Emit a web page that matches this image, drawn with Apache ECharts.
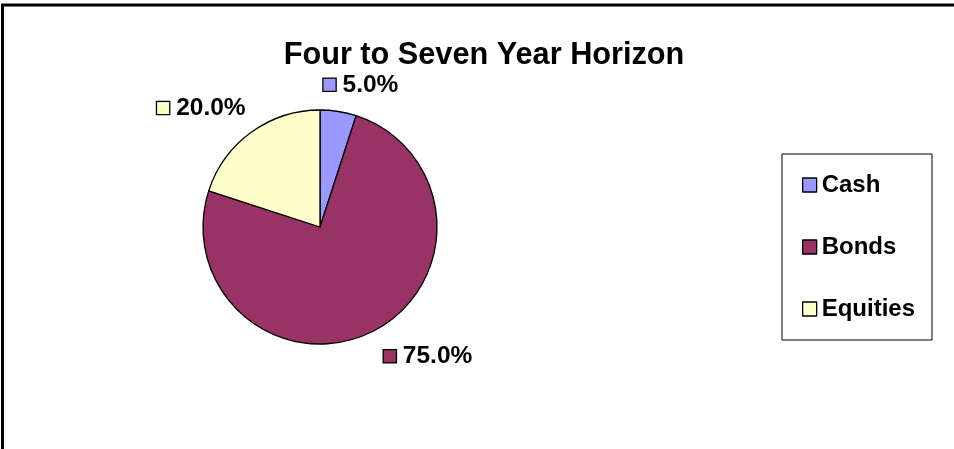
<!DOCTYPE html>
<html>
<head>
<meta charset="utf-8">
<script src="https://cdn.jsdelivr.net/npm/echarts@6/dist/echarts.min.js"></script>
<style>
  html, body { margin: 0; padding: 0; background: #fff; }
  #chart { width: 954px; height: 449px; }
</style>
</head>
<body>
<div id="chart"></div>
<script>
// Asset allocation for a four-to-seven-year horizon (percent of portfolio)
const categories = ['Cash', 'Bonds', 'Equities'];
const shares = [5, 75, 20];
const colors = ['#9999FF', '#993366', '#FFFFCC'];

const FONT = "'Liberation Sans', Arial, sans-serif";

// Per-slice placement of the outside labels (radial / tangential offsets)
const labelLines = [
  { length: 27, length2: -24 },
  { length: 28, length2: -7 },
  { length: 30, length2: -17 }
];

const rich = { v: { fontFamily: FONT, fontSize: 24.5, fontWeight: 'bold', color: '#000', padding: [0, 0, 0, 7] } };
colors.forEach((c, i) => {
  rich['k' + i] = { width: 12, height: 12, backgroundColor: c, borderColor: '#000', borderWidth: 1.3 };
});

const chart = echarts.init(document.getElementById('chart'), null, { renderer: 'canvas' });
chart.setOption({
  animation: false,
  backgroundColor: '#fff',
  title: {
    text: 'Four to Seven Year Horizon',
    left: 479,
    top: 35,
    textAlign: 'center',
    textStyle: { fontFamily: FONT, fontSize: 30.7, fontWeight: 'bold', color: '#000' }
  },
  legend: {
    orient: 'vertical',
    left: 782,
    top: 154,
    data: categories,
    icon: 'rect',
    itemWidth: 14,
    itemHeight: 14,
    itemGap: 38,
    padding: [19, 17, 19, 20],
    borderColor: '#000',
    borderWidth: 1,
    itemStyle: { borderColor: '#000', borderWidth: 1.3 },
    textStyle: { fontFamily: FONT, fontSize: 24, fontWeight: 'bold', color: '#000', lineHeight: 24 }
  },
  graphic: [{
    type: 'polyline',
    shape: { points: [[2.5, 449], [2.5, 5], [954, 5]] },
    style: { stroke: '#000', lineWidth: 3, fill: null }
  }],
  series: [{
    type: 'pie',
    center: [320, 227],
    radius: 117,
    startAngle: 90,
    clockwise: true,
    avoidLabelOverlap: false,
    itemStyle: { borderColor: '#000', borderWidth: 1.3 },
    emphasis: { disabled: true },
    label: {
      show: true,
      position: 'outside',
      distanceToLabelLine: 5,
      formatter: p => `{k${p.dataIndex}|}{v|${p.value.toFixed(1)}%}`,
      rich: rich
    },
    labelLine: { show: false },
    data: categories.map((name, i) => ({
      name: name,
      value: shares[i],
      itemStyle: { color: colors[i] },
      labelLine: Object.assign({ show: false }, labelLines[i])
    }))
  }]
});
</script>
</body>
</html>
